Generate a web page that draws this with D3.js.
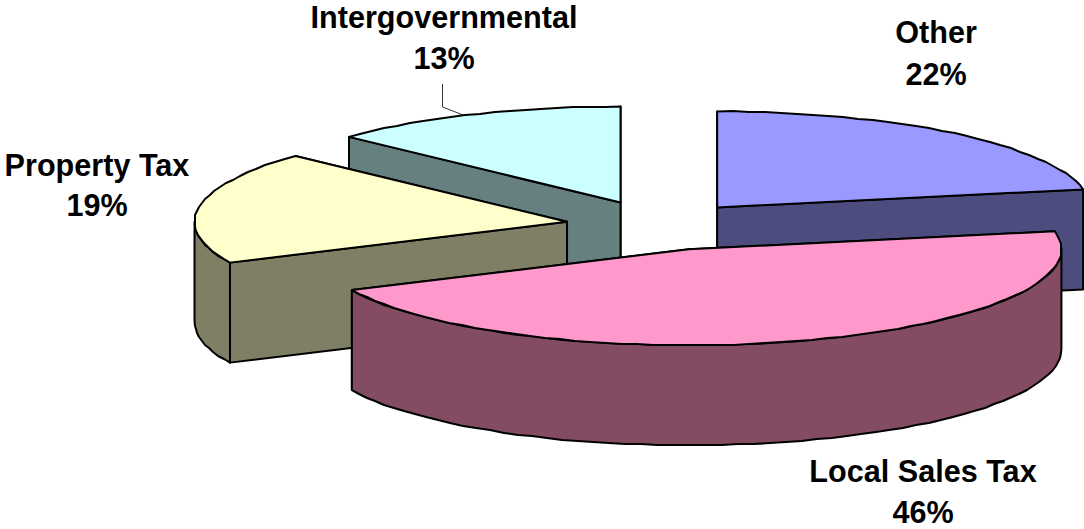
<!DOCTYPE html>
<html>
<head>
<meta charset="utf-8">
<script src="https://cdn.jsdelivr.net/npm/d3@7"></script>
<style>
  html, body { margin: 0; padding: 0; background: #fff; overflow: hidden; }
  text { font-family: "Liberation Sans", Arial, sans-serif; font-weight: bold; fill: #000; }
</style>
</head>
<body>
<svg id="chart" width="1084" height="529"></svg>
<script>
// Revenue shares, clockwise from twelve o'clock
const categories = ["Other", "Local Sales Tax", "Property Tax", "Intergovernmental"];
const shares = [22, 46, 19, 13];
const pullOut = [0.245, 0.26, 0.25, 0.26];   // each slice's pull-out, as a fraction of the radius
const topColors = ["#9999FF", "#FF99CC", "#FFFFCC", "#CCFFFF"];
const sideColors = ["#4C4C7F", "#834C63", "#7F7F66", "#667F7F"];

// Chart layout
const width = 1084, height = 529;
const centerX = 659, centerY = 225.5;  // pie centre before slices are pulled out
const radiusX = 372.5, radiusY = 96;   // tilted pie seen as an ellipse
const depth = 100;                     // extrusion height
const fontSize = 30.6;

// Where each two-line label sits: [centre x, first baseline, second baseline]
const labelSpots = [
  [936, 43, 85],
  [923, 482, 523],
  [97, 176, 216],
  [444, 28, 69]
];

const svg = d3.select("#chart");
const pie = d3.pie().sort(null).value(d => d)(shares);

const line = d3.line();
const closed = pts => line(pts) + "Z";

// Slice origin once pulled out along its middle angle
const origin = i => {
  const mid = (pie[i].startAngle + pie[i].endAngle) / 2;
  return [
    centerX + pullOut[i] * radiusX * Math.sin(mid),
    centerY - pullOut[i] * radiusY * Math.cos(mid)
  ];
};
const rimPoint = (i, a) => {
  const [ox, oy] = origin(i);
  return [ox + radiusX * Math.sin(a), oy - radiusY * Math.cos(a)];
};

// Draw order: back slices first, the large front slice last
const order = [3, 0, 2, 1];

order.forEach(i => {
  const s = pie[i];
  const rim = a => rimPoint(i, a);
  const down = p => [p[0], p[1] + depth];

  // Rim is sampled coarsely and snapped to whole pixels for a stepped outline
  const sample = (a0, a1) => {
    const n = Math.max(1, Math.ceil((a1 - a0) / (Math.PI / 72)));
    return d3.range(n + 1).map(k => {
      const p = rim(a0 + (a1 - a0) * k / n);
      return k === 0 || k === n ? p : [Math.round(p[0]), Math.round(p[1])];
    });
  };

  const g = svg.append("g").attr("class", "slice");
  const apex = origin(i);
  const startPt = rim(s.startAngle), endPt = rim(s.endAngle);
  const wall = pts => g.append("path")
    .attr("d", closed(pts))
    .attr("fill", sideColors[i])
    .attr("stroke", "#000")
    .attr("stroke-width", 2)
    .attr("stroke-linejoin", "round");

  // Flat cut faces, farther one first
  [startPt, endPt]
    .sort((a, b) => a[1] - b[1])
    .forEach(p => wall([apex, p, down(p), down(apex)]));

  // Curved outer wall, only where the rim faces the viewer
  const a0 = Math.max(s.startAngle, Math.PI / 2);
  const a1 = Math.min(s.endAngle, 3 * Math.PI / 2);
  if (a1 > a0) {
    const edge = sample(a0, a1);
    wall(edge.concat(edge.map(down).reverse()));
  }

  // Top face
  g.append("path")
    .attr("d", closed([apex].concat(sample(s.startAngle, s.endAngle))))
    .attr("fill", topColors[i])
    .attr("stroke", "#000")
    .attr("stroke-width", 2)
    .attr("stroke-linejoin", "round");
});

// Leader from the small slice's label to its rim
const leaderSlice = pie[3];
const leaderEnd = rimPoint(3, leaderSlice.startAngle + (leaderSlice.endAngle - leaderSlice.startAngle) * 0.47);
svg.append("path")
  .attr("d", line([[442.5, 84], [442.5, 107], leaderEnd]))
  .attr("fill", "none")
  .attr("stroke", "#000")
  .attr("stroke-width", 0.8);

// Labels
categories.forEach((name, i) => {
  const [x, y1, y2] = labelSpots[i];
  const t = svg.append("g").attr("class", "label").attr("text-anchor", "middle").attr("font-size", fontSize);
  t.append("text").attr("x", x).attr("y", y1).text(name);
  t.append("text").attr("x", x).attr("y", y2).text(shares[i] + "%");
});
</script>
</body>
</html>
